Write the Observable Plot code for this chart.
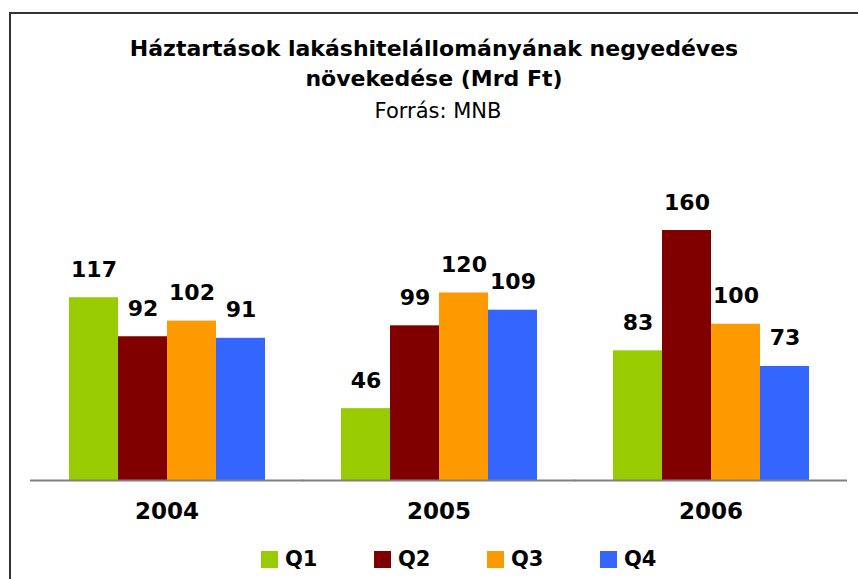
<!DOCTYPE html>
<html>
<head>
<meta charset="utf-8">
<script src="https://cdn.jsdelivr.net/npm/d3@7"></script>
<script src="https://cdn.jsdelivr.net/npm/@observablehq/plot@0.6"></script>
<style>
  html, body { margin: 0; padding: 0; background: #fff; }
  #wrap { position: relative; width: 858px; height: 579px; overflow: hidden; background: #fff; }
  #chart { position: absolute; left: 0; top: 0; }
  #frame { position: absolute; left: 9px; top: 12px; width: 900px; height: 700px; border: 2px solid #333; box-sizing: border-box; }
  #title { position: absolute; left: 0; top: 34px; width: 868px; text-align: center;
           font-family: "DejaVu Sans", sans-serif; font-weight: bold; font-size: 22px; line-height: 30px; color: #000; }
  #subtitle { position: absolute; left: 0; top: 99px; width: 876px; text-align: center;
           font-family: "DejaVu Sans", sans-serif; font-weight: 400; font-size: 21px; line-height: 24px; color: #000; }
  #legend { position: absolute; left: 261px; top: 547px; display: flex; align-items: center;
           font-family: "DejaVu Sans", sans-serif; font-weight: bold; font-size: 21px; color: #000; }
  .item { width: 113px; display: flex; align-items: center; }
  .sw { width: 17px; height: 17px; margin-right: 7px; }
</style>
</head>
<body>
<div id="wrap">
  <div id="chart"></div>
  <div id="frame"></div>
  <div id="title">Háztartások lakáshitelállományának negyedéves<br>növekedése (Mrd Ft)</div>
  <div id="subtitle">Forrás: MNB</div>
  <div id="legend"></div>
</div>
<script>
const years = ["2004", "2005", "2006"];
const quarters = ["Q1", "Q2", "Q3", "Q4"];
const q1 = [117, 46, 83];
const q2 = [92, 99, 160];
const q3 = [102, 120, 100];
const q4 = [91, 109, 73];
const colors = ["#99cc00", "#800000", "#ff9900", "#3366ff"];

const series = [q1, q2, q3, q4];
const data = [];
years.forEach((yr, i) => {
  quarters.forEach((q, j) => {
    data.push({year: yr, q: q, value: series[j][i]});
  });
});

const chart = Plot.plot({
  width: 858,
  height: 579,
  marginTop: 230,
  marginBottom: 99,
  marginLeft: 30,
  marginRight: 11,
  style: {background: "transparent", overflow: "visible"},
  fx: {domain: years, paddingInner: 0.267, paddingOuter: 0.134, axis: null},
  x: {domain: quarters, padding: 0, axis: null},
  y: {domain: [0, 160], axis: null},
  color: {domain: quarters, range: colors},
  marks: [
    Plot.barY(data, {fx: "year", x: "q", y: "value", fill: "q"}),
    Plot.ruleY(years.map(yr => ({year: yr, v: 0})), {fx: "year", y: "v", stroke: "#808080", strokeWidth: 2,
      insetLeft: -37, insetRight: -37}),
    Plot.text(data, {fx: "year", x: "q", y: "value", text: d => String(d.value), dy: -28,
      fontSize: 22, fontWeight: "bold", fontFamily: "DejaVu Sans", fill: "#000"}),
    Plot.text(years, {fx: d => d, text: d => d, frameAnchor: "bottom", lineAnchor: "middle", dy: 31.5,
      fontSize: 23, fontWeight: "bold", fontFamily: "DejaVu Sans", fill: "#000"})
  ]
});
document.getElementById("chart").appendChild(chart);

const legend = document.getElementById("legend");
quarters.forEach((q, j) => {
  const item = document.createElement("div");
  item.className = "item";
  const sw = document.createElement("div");
  sw.className = "sw";
  sw.style.background = colors[j];
  const t = document.createElement("span");
  t.textContent = q;
  item.appendChild(sw);
  item.appendChild(t);
  legend.appendChild(item);
});
</script>
</body>
</html>
